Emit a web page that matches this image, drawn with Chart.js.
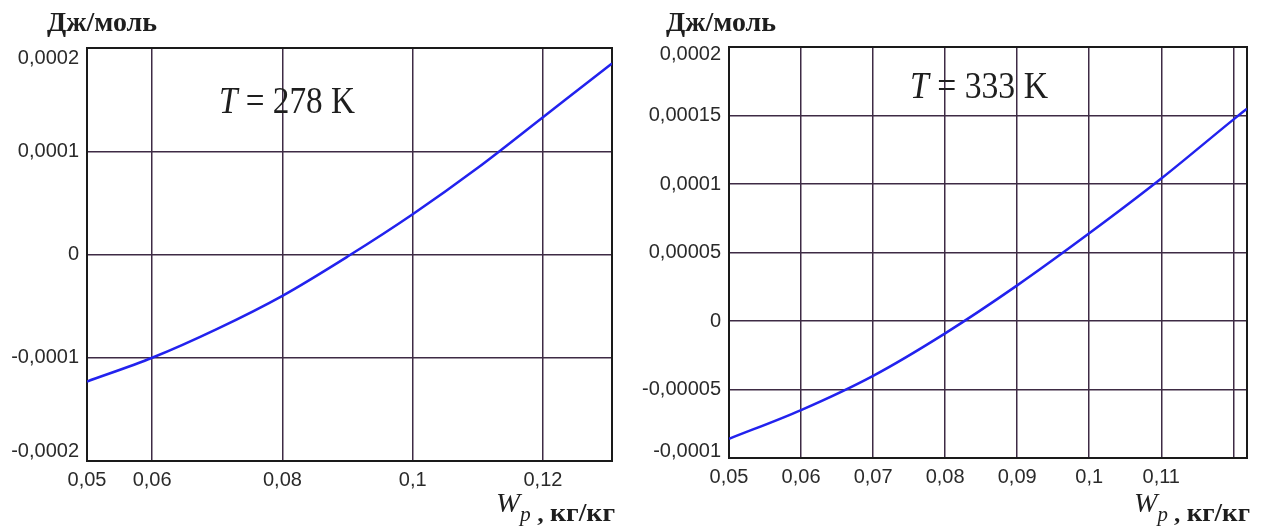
<!DOCTYPE html>
<html>
<head>
<meta charset="utf-8">
<script src="https://cdn.jsdelivr.net/npm/chart.js@4.4.0/dist/chart.umd.min.js"></script>
<style>
  html, body { margin: 0; padding: 0; background: #ffffff; }
  #wrap { position: relative; width: 1267px; height: 529px; overflow: hidden; background: #fff; }
  #c1 { position: absolute; left: 0; top: 0; }
  #c2 { position: absolute; left: 630px; top: 0; }
</style>
</head>
<body>
<div id="wrap">
  <canvas id="c1" width="630" height="529"></canvas>
  <canvas id="c2" width="637" height="529"></canvas>
</div>
<script>
// ---------- data ----------
const xLeft  = [0.05, 0.06, 0.07, 0.08, 0.09, 0.10, 0.11, 0.12, 0.13, 0.1306];
const yLeft  = [-0.000123, -0.000100, -0.000072, -0.000040, -0.000002, 0.000039, 0.000084, 0.000133, 0.000182, 0.000185];
const xRight = [0.05, 0.06, 0.07, 0.08, 0.09, 0.10, 0.11, 0.12, 0.1219];
const yRight = [-0.000086, -0.000065, -0.000040, -0.000009, 0.000026, 0.000064, 0.000104, 0.000147, 0.000155];

const xTicksLeft  = [0.05, 0.06, 0.08, 0.1, 0.12];
const yTicksLeft  = [-0.0002, -0.0001, 0, 0.0001, 0.0002];
const xTicksRight = [0.05, 0.06, 0.07, 0.08, 0.09, 0.1, 0.11, 0.12];
const xLabelsHiddenRight = [0.12];
const yTicksRight = [-0.0001, -0.00005, 0, 0.00005, 0.0001, 0.00015, 0.0002];

const yUnit = 'Дж/моль';
const tempLeft = '278';
const tempRight = '333';
const xUnit = 'кг/кг';

// ---------- helpers ----------
const GRID = '#3e2b44';
const LINE = '#2222ee';

function fmt(v) {
  return String(+Number(v).toPrecision(6)).replace('.', ',');
}

function drawParts(ctx, parts, x, y, targetW) {
  let total = 0;
  parts.forEach(p => { ctx.font = p.font; total += ctx.measureText(p.text).width; });
  const s = targetW / total;
  ctx.save();
  ctx.translate(x, y);
  ctx.scale(s, 1);
  ctx.fillStyle = '#1e1e1e';
  ctx.textBaseline = 'alphabetic';
  ctx.textAlign = 'left';
  let cx = 0;
  parts.forEach(p => {
    ctx.font = p.font;
    ctx.fillText(p.text, cx, p.dy || 0);
    cx += ctx.measureText(p.text).width;
  });
  ctx.restore();
}

function makeTextPlugin(cfg) {
  return {
    id: 'texts',
    beforeDatasetsDraw(chart) {
      const ctx = chart.ctx, a = chart.chartArea;
      ctx.save();
      ctx.strokeStyle = '#1a1a1a';
      ctx.lineWidth = 2;
      ctx.strokeRect(a.left, a.top, a.right - a.left, a.bottom - a.top);
      ctx.restore();
    },
    afterDraw(chart) {
      const ctx = chart.ctx;
      const serif = '"Liberation Serif", "Times New Roman", serif';
      drawParts(ctx, [{ text: yUnit, font: 'bold 27px ' + serif }], cfg.unitX, 31, 110);
      drawParts(ctx, [
        { text: 'T', font: 'italic 38px ' + serif },
        { text: ' = ' + cfg.temp + ' K', font: '38px ' + serif }
      ], cfg.tX, cfg.tY, cfg.tW);
      drawParts(ctx, [
        { text: 'W', font: 'italic 27px ' + serif, dy: -9 },
        { text: 'p', font: 'italic 20px ' + serif, dy: 0 },
        { text: ' , ', font: 'bold 24px ' + serif },
        { text: xUnit, font: 'bold 26px ' + serif }
      ], cfg.wX, 521, cfg.wW);
    }
  };
}

function buildChart(id, xs, ys, xmin, xmax, xTicks, yTicks, hiddenX, sizes, textCfg) {
  const pts = xs.map((x, i) => ({ x: x, y: ys[i] }));
  const yFirst = yTicks[0], yLast = yTicks[yTicks.length - 1];
  return new Chart(document.getElementById(id), {
    type: 'line',
    data: {
      datasets: [{
        data: pts,
        borderColor: LINE,
        borderWidth: 2.5,
        pointRadius: 0,
        fill: false,
        cubicInterpolationMode: 'monotone'
      }]
    },
    options: {
      responsive: false,
      animation: false,
      events: [],
      layout: { padding: { left: 0, top: sizes.top, right: sizes.right, bottom: 0 } },
      plugins: { legend: { display: false }, tooltip: { enabled: false } },
      scales: {
        x: {
          type: 'linear',
          min: xmin,
          max: xmax,
          afterBuildTicks: s => { s.ticks = xTicks.map(v => ({ value: v })); },
          afterFit: s => { s.height = sizes.xh; },
          border: { display: false },
          grid: { color: GRID, lineWidth: 1.5, drawTicks: false },
          ticks: {
            color: '#2a2a2a',
            font: { family: '"Liberation Sans", Arial, sans-serif', size: 20 },
            padding: 7,
            maxRotation: 0,
            autoSkip: false,
            callback: v => (hiddenX.indexOf(v) >= 0 ? '' : fmt(v))
          }
        },
        y: {
          type: 'linear',
          min: yFirst,
          max: yLast,
          afterBuildTicks: s => { s.ticks = yTicks.map(v => ({ value: v })); },
          afterFit: s => { s.width = sizes.yw; },
          border: { display: false },
          grid: { color: GRID, lineWidth: 1.5, drawTicks: false },
          ticks: {
            color: '#2a2a2a',
            font: { family: '"Liberation Sans", Arial, sans-serif', size: 20, lineHeight: sizes.edgeLH },
            padding: 8,
            autoSkip: false,
            // edge labels are nudged inside the plot like in the reference
            callback: v => {
              if (v === yLast) return ['', fmt(v)];
              if (v === yFirst) return [fmt(v), ''];
              return fmt(v);
            }
          }
        }
      }
    },
    plugins: [makeTextPlugin(textCfg)]
  });
}

buildChart('c1', xLeft, yLeft, 0.05, 0.1306, xTicksLeft, yTicksLeft, [],
  { top: 48, right: 18, xh: 68, yw: 87, edgeLH: 1.0 },
  { unitX: 47, temp: tempLeft, tX: 219, tY: 113, tW: 136, wX: 496, wW: 119 });

buildChart('c2', xRight, yRight, 0.05, 0.1219, xTicksRight, yTicksRight, xLabelsHiddenRight,
  { top: 47, right: 20, xh: 71, yw: 99, edgeLH: 0.7 },
  { unitX: 36, temp: tempRight, tX: 280, tY: 98, tW: 138, wX: 504, wW: 116 });
</script>
</body>
</html>
